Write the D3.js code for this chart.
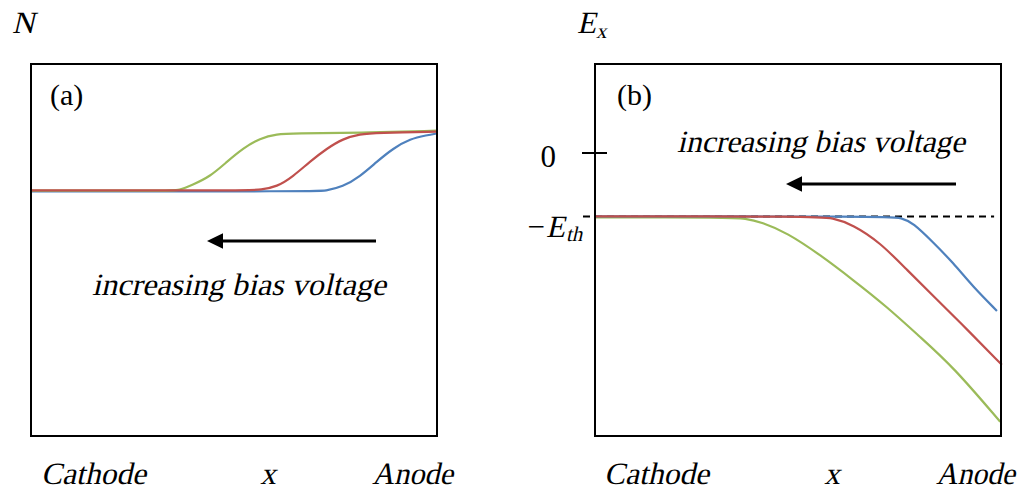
<!DOCTYPE html>
<html><head><meta charset="utf-8">
<script src="https://cdn.jsdelivr.net/npm/d3@7"></script>
<style>body{margin:0;background:#fff}svg{display:block}</style>
</head><body>
<script>
// ---- data (x: 0 = cathode, 100 = anode) ----
// Panel (a): carrier density N (0 = low level, 1 = high level)
const nGreen = [[0,0.005],[34,0.005],[36.5,0.01],[39.7,0.1],[44.1,0.24],[48.3,0.49],[52.2,0.71],[56.4,0.88],[60.6,0.95],[64.5,0.96],[81,0.97],[100,1.005]];
const nRed   = [[0,0.01],[54,0.01],[56.4,0.02],[60.6,0.07],[64.5,0.24],[68.7,0.49],[72.9,0.71],[76.8,0.87],[81,0.95],[85.2,0.97],[100,0.99]];
const nBlue  = [[0,-0.005],[70,-0.005],[72.4,0.0],[76.8,0.07],[81,0.24],[85.2,0.49],[89.2,0.71],[93.4,0.87],[97.5,0.93],[100,0.96]];
// Panel (b): field Ex in units of Eth
const eGreen = [[0,-1.016],[33,-1.016],[37,-1.03],[41,-1.09],[47.3,-1.257],[55.4,-1.604],[63.5,-1.998],[71.9,-2.424],[80,-2.897],[88.2,-3.37],[99.8,-4.238]];
const eRed   = [[0,-1],[54,-1],[58.5,-1.02],[63.5,-1.13],[70.2,-1.41],[76.8,-1.84],[84.2,-2.31],[92.4,-2.83],[100.2,-3.34]];
const eBlue  = [[0,-1],[72,-1],[75.5,-1.02],[78.3,-1.1],[83.3,-1.41],[88.2,-1.73],[93.1,-2.11],[99,-2.49]];
const yTicksB = [0];
const threshold = -1;
const colors = {blue:"#4F81BD", red:"#C0504D", green:"#9BBB59"};

const FONT = "'Liberation Serif', 'Tinos', 'Times New Roman', serif";
const W=1024,H=489;
const svg=d3.select("body").append("svg").attr("width",W).attr("height",H);

const defs=svg.append("defs");
defs.append("marker").attr("id","ah").attr("viewBox","0 0 10 10").attr("refX",0).attr("refY",5)
  .attr("markerUnits","userSpaceOnUse").attr("markerWidth",16).attr("markerHeight",16).attr("orient","auto-start-reverse")
  .append("path").attr("d","M0,0.2 L10,5 L0,9.8 Z").attr("fill","#000");

function panel(x0){
  return {x:d3.scaleLinear().domain([0,100]).range([x0,x0+406]), top:64, bottom:436};
}
const A=panel(31), B=panel(595);
A.y=d3.scaleLinear().domain([-4.083,2.117]).range([436,64]);
B.y=d3.scaleLinear().domain([-4.463,1.404]).range([436,64]);

function drawLines(P, series){
  const line=d3.line().x(d=>P.x(d[0])).y(d=>P.y(d[1])).curve(d3.curveBasis);
  series.forEach(s=>{
    svg.append("path").datum(s.data).attr("d",line).attr("fill","none")
      .attr("stroke",s.c).attr("stroke-width",2.2);
  });
}
function box(P){
  svg.append("rect").attr("x",P.x(0)).attr("y",P.top).attr("width",P.x(100)-P.x(0))
    .attr("height",P.bottom-P.top).attr("fill","none").attr("stroke","#000").attr("stroke-width",2);
}
function arrow(P,yv,x1,x2){
  svg.append("line").attr("x1",P.x(x2)).attr("x2",P.x(x1)+15).attr("y1",yv).attr("y2",yv)
    .attr("stroke","#000").attr("stroke-width",3).attr("marker-end","url(#ah)");
}
// upright serif text
function rtxt(x,y,t,opts){
  opts=opts||{};
  return svg.append("text").attr("x",x).attr("y",y).attr("font-family",FONT)
    .attr("font-size",opts.size||31).attr("text-anchor",opts.anchor||"start").text(t);
}
// slanted serif text (oblique, as the serif italic face is not installed)
function itxt(x,y,t,opts){
  opts=opts||{};
  const g=svg.append("g").attr("transform",`translate(${x},${y}) skewX(-13)`);
  const t0=g.append("text").attr("x",0).attr("y",0).attr("font-family",FONT)
    .attr("font-size",opts.size||31).attr("text-anchor",opts.anchor||"start").text(t);
  if(opts.len) t0.attr("textLength",opts.len).attr("lengthAdjust","spacingAndGlyphs");
  return t0;
}

// ---- Panel (a) ----
drawLines(A,[{data:nBlue,c:colors.blue},{data:nGreen,c:colors.green},{data:nRed,c:colors.red}]);
box(A);
rtxt(50,105,"(a)",{size:30});
arrow(A,241,(208-31)/4.06,(376-31)/4.06);
itxt(239,295,"increasing bias voltage",{anchor:"middle",len:294});
itxt(12,33,"N");
itxt(41,484,"Cathode",{len:105});
itxt(268,484,"x",{anchor:"middle"});
itxt(453,484,"Anode",{anchor:"end",len:81});

// ---- Panel (b) ----
svg.append("line").attr("x1",583).attr("x2",B.x(98.3)).attr("y1",B.y(threshold)).attr("y2",B.y(threshold))
  .attr("stroke","#000").attr("stroke-width",2).attr("stroke-dasharray","7,5");
drawLines(B,[{data:eGreen,c:colors.green},{data:eBlue,c:colors.blue},{data:eRed,c:colors.red}]);
box(B);
yTicksB.forEach(v=>{
  svg.append("line").attr("x1",582).attr("x2",607).attr("y1",B.y(v)).attr("y2",B.y(v))
    .attr("stroke","#000").attr("stroke-width",2);
  rtxt(556,B.y(v)+14,String(v),{anchor:"end"});
});
rtxt(545,237,"\u2212",{anchor:"end"});
itxt(546,237,"E");
itxt(566,241,"th",{size:21});
rtxt(617,105,"(b)",{size:30});
itxt(821,152,"increasing bias voltage",{anchor:"middle",len:288});
arrow(B,184,(787-595)/4.06,(956-595)/4.06);
itxt(577,33,"E");
itxt(596,38,"x",{size:21});
itxt(604,484,"Cathode",{len:105});
itxt(832,484,"x",{anchor:"middle"});
itxt(1015,484,"Anode",{anchor:"end",len:79});
</script>
</body></html>
